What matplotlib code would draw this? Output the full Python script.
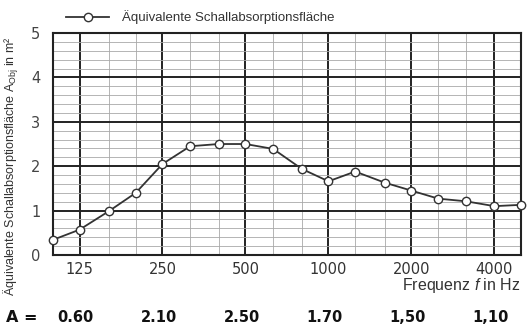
import matplotlib.pyplot as plt
import numpy as np
from matplotlib.ticker import FixedLocator, NullFormatter, MultipleLocator

# third-octave band centre frequencies and measured absorption area
freqs = [100, 125, 160, 200, 250, 315, 400, 500, 630, 800,
         1000, 1250, 1600, 2000, 2500, 3150, 4000, 5000]
area = [0.34, 0.57, 0.99, 1.40, 2.05, 2.45, 2.50, 2.50, 2.39, 1.94,
        1.66, 1.88, 1.63, 1.45, 1.27, 1.21, 1.10, 1.13]

octaves = [125, 250, 500, 1000, 2000, 4000]
octave_labels = ["125", "250", "500", "1000", "2000", "4000"]
octave_values = ["0.60", "2.10", "2.50", "1.70", "1,50", "1,10"]

plt.rcParams["mathtext.fontset"] = "custom"
plt.rcParams["mathtext.rm"] = "Liberation Sans"
plt.rcParams["mathtext.it"] = "Liberation Sans:italic"


def draw_chart():
    fig = plt.figure(figsize=(5.28, 3.24), dpi=100)
    ax = fig.add_axes([0.100, 0.213, 0.887, 0.685])

    ax.set_xscale("log")
    ax.set_xlim(100, 5000)
    ax.set_ylim(0, 5)

    minor_x = [f for f in freqs if f not in octaves]
    ax.xaxis.set_major_locator(FixedLocator(octaves))
    ax.xaxis.set_minor_locator(FixedLocator(minor_x))
    ax.xaxis.set_minor_formatter(NullFormatter())
    ax.set_xticklabels(octave_labels)
    ax.yaxis.set_major_locator(MultipleLocator(1))
    ax.yaxis.set_minor_locator(MultipleLocator(0.2))

    ax.grid(which="major", color="#222222", linewidth=1.4)
    ax.grid(which="minor", color="#a8a8a8", linewidth=0.6)
    ax.set_axisbelow(True)

    ax.tick_params(which="both", length=0)
    ax.tick_params(axis="x", labelsize=10.5, colors="#333333", pad=5)
    ax.tick_params(axis="y", labelsize=10.5, colors="#444444", pad=9)

    for spine in ax.spines.values():
        spine.set_linewidth(1.5)
        spine.set_color("#222222")

    ax.plot(freqs, area, color="#333333", linewidth=1.3, marker="o",
            markersize=6, markerfacecolor="white", markeredgecolor="#333333",
            markeredgewidth=1.0, clip_on=False, zorder=5,
            label="Äquivalente Schallabsorptionsfläche")

    ax.legend(loc="lower left", bbox_to_anchor=(0.015, 1.01), frameon=False,
              handlelength=3.2, handletextpad=1.0,
              borderaxespad=0.1, labelcolor="#333333",
              prop={"family": "Liberation Sans", "size": 9.5})

    ax.set_ylabel("Äquivalente Schallabsorptionsfläche A$_{\\mathrm{Obj}}$ in m²",
                  fontsize=9, color="#333333", family="Liberation Sans")
    ax.yaxis.set_label_coords(-0.068, 0.40)

    fig.text(0.985, 0.118, "Frequenz $\\mathit{f}$ in Hz", ha="right",
             va="center", fontsize=11.5, color="#333333",
             family="Liberation Sans")

    trans = ax.get_xaxis_transform()
    ax.text(-0.1, -0.28, "A =", transform=ax.transAxes, ha="left",
            va="center", fontsize=11.5, fontweight="bold", color="#111111")
    for f, v in zip(octaves, octave_values):
        ax.text(f * 0.97, -0.28, v, transform=trans, ha="center",
                va="center", fontsize=10.5, fontweight="bold",
                color="#111111")

    fig.savefig("out.png", dpi=100)


if __name__ == "__main__":
    draw_chart()
